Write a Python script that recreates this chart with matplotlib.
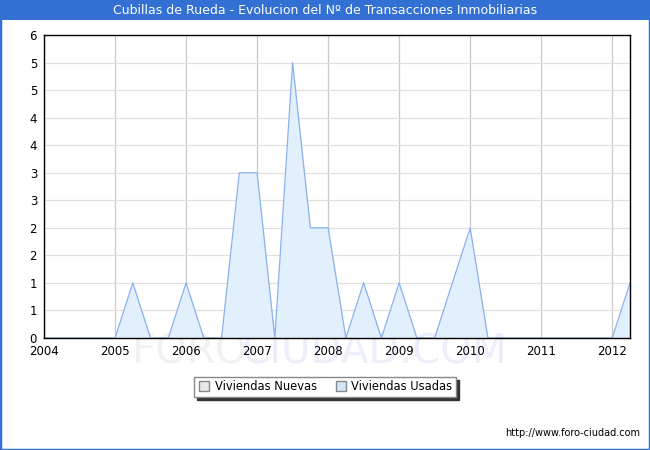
import numpy as np
import matplotlib
matplotlib.use("Agg")
import matplotlib.pyplot as plt
from matplotlib.lines import Line2D
from matplotlib.patches import Rectangle

# quarterly data, 2004 Q1 .. 2012 Q2
quarters = np.arange(2004.0, 2012.26, 0.25)
usadas = [0, 0, 0, 0,
          0, 1, 0, 0,
          1, 0, 0, 3,
          3, 0, 5, 2,
          2, 0, 1, 0,
          1, 0, 0, 1,
          2, 0, 0, 0,
          0, 0, 0, 0,
          0, 1]
nuevas = [0] * len(usadas)

years = list(range(2004, 2013))
yticks = np.arange(0, 5.6, 0.5)
ylabels = [str(int(np.floor(v + 0.5))) for v in yticks]

title = "Cubillas de Rueda - Evolucion del Nº de Transacciones Inmobiliarias"

W, H = 650, 450
fig = plt.figure(figsize=(6.5, 4.5), dpi=100)
fig.patch.set_facecolor("white")

# blue border and title bar
fig.patches.append(Rectangle((0, 0), 1, 1, transform=fig.transFigure,
                             fill=False, edgecolor="#3370d4", linewidth=2.5))
fig.patches.append(Rectangle((0, 1 - 20 / H), 1, 20 / H, transform=fig.transFigure,
                             facecolor="#3370d4", edgecolor="none"))
fig.text(0.5, 1 - 10.5 / H, title, color="white", fontsize=9,
         ha="center", va="center")

# watermark behind everything
fig.text(132 / W, (H - 353) / H, "FORO-", fontsize=29, color="#f1f1f1",
         ha="left", va="center", zorder=-5)
fig.text(507 / W, (H - 353) / H, "CIUDAD.COM", fontsize=29, color="#eceefb",
         ha="right", va="center", zorder=-5)

ax = fig.add_axes([44 / W, (H - 338) / H, (630 - 44) / W, (338 - 35) / H])
ax.set_zorder(1)
ax.patch.set_alpha(0)

ax.fill_between(quarters, nuevas, color="#e8e8e8", linewidth=0)
ax.fill_between(quarters, usadas, color="#e2f0fe", linewidth=0, zorder=2)
ax.plot(quarters, usadas, color="#8ab0ee", linewidth=0.9, zorder=3)

ax.set_xlim(2004, 2012.25)
ax.set_ylim(0, 5.5)
ax.set_xticks(years)
ax.set_xticklabels([str(y) for y in years])
ax.set_yticks(yticks)
ax.set_yticklabels(ylabels)
ax.tick_params(length=0, labelsize=8.5, pad=5)

ax.grid(axis="y", color="#e0e0e0", linewidth=0.9)
ax.grid(axis="x", color="#c8c8c8", linewidth=0.9)
ax.set_axisbelow(True)
for s in ax.spines.values():
    s.set_color("black")
    s.set_linewidth(1.0)
    s.set_zorder(4)

handles = [
    Line2D([], [], marker="s", linestyle="none", markersize=7,
           markerfacecolor="#e8e8e8", markeredgecolor="#888888"),
    Line2D([], [], marker="s", linestyle="none", markersize=7,
           markerfacecolor="#cfe6fb", markeredgecolor="#888888"),
]
fig.legend(handles, ["Viviendas Nuevas", "Viviendas Usadas"], ncol=2,
           loc="center", bbox_to_anchor=(325 / W, (H - 387) / H),
           fontsize=8.3, frameon=True, fancybox=False,
           shadow={"color": "#333333", "alpha": 1.0},
           edgecolor="#888888", borderpad=0.3, handletextpad=0.3,
           columnspacing=1.5, handlelength=1.2)

fig.text(640 / W, (H - 433) / H, "http://www.foro-ciudad.com", fontsize=7,
         ha="right", va="center")

fig.savefig("out.png", dpi=100)
